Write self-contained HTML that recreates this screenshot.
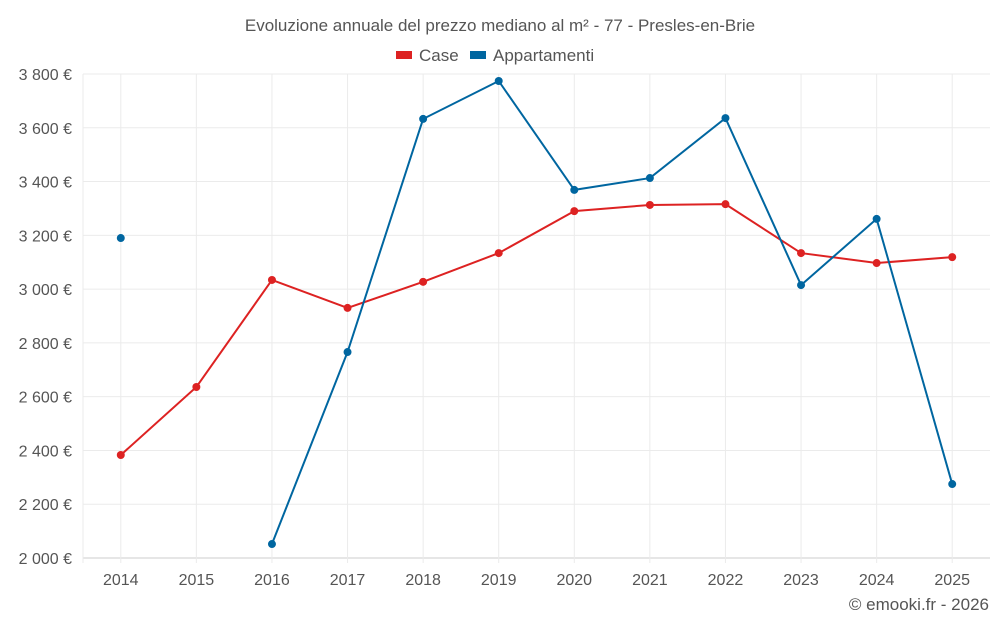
<!DOCTYPE html>
<html><head><meta charset="utf-8"><style>
body{margin:0;background:#fff;font-family:"Liberation Sans",sans-serif}
</style></head><body>
<svg id="c" width="1000" height="625" xmlns="http://www.w3.org/2000/svg" font-family="Liberation Sans, sans-serif">
<text x="500" y="31" text-anchor="middle" font-size="17" fill="#555">Evoluzione annuale del prezzo mediano al m² - 77 - Presles-en-Brie</text>
<g><rect x="396" y="51" width="16" height="8" fill="#dd2222"/><text x="419" y="61" font-size="17" fill="#555">Case</text></g>
<g><rect x="470" y="51" width="16" height="8" fill="#0066a0"/><text x="493" y="61" font-size="17" fill="#555">Appartamenti</text></g>
<g id="grid"></g><g id="axes"></g><g id="series"></g>
<text x="989" y="610" text-anchor="end" font-size="17" fill="#555">© emooki.fr - 2026</text>
</svg>
<script>
const years=[2014,2015,2016,2017,2018,2019,2020,2021,2022,2023,2024,2025];
const caseVals=[2383,2636,3034,2930,3027,3134,3290,3313,3316,3134,3097,3119];
const aptVals=[3190,null,2052,2766,3633,3774,3369,3413,3636,3015,3261,2275];
const yTicks=[2000,2200,2400,2600,2800,3000,3200,3400,3600,3800];
const NS="http://www.w3.org/2000/svg";
const x0=83,x1=990,yTop=74,yBot=558;
const step=(x1-x0)/years.length;
const xs=i=>x0+step*(i+0.5);
const ys=v=>yBot-(v-2000)/1800*(yBot-yTop);
function mk(tag,attrs,parent){const e=document.createElementNS(NS,tag);for(const k in attrs)e.setAttribute(k,attrs[k]);parent.appendChild(e);return e;}
const grid=document.getElementById('grid'),axes=document.getElementById('axes'),ser=document.getElementById('series');
yTicks.forEach(t=>{
 const l=mk('line',{x1:x0,x2:x1,y1:ys(t),y2:ys(t),stroke:t===2000?'#ccc':'#ebebeb'},grid);
 
 
 const tx=mk('text',{x:72,y:ys(t)+6,'text-anchor':'end','font-size':16,fill:'#555'},axes);
 tx.textContent=String(t).replace(/(\d)(\d{3})$/,'$1 $2')+' €';
 
 
});
const lx=mk('line',{x1:x0,x2:x0,y1:yTop,y2:yBot+5,stroke:'#ebebeb'},grid);


years.forEach((y,i)=>{
 const l=mk('line',{x1:xs(i),x2:xs(i),y1:yTop,y2:yBot+5,stroke:'#ebebeb'},grid);
 
 
 const tx=mk('text',{x:xs(i),y:585,'text-anchor':'middle','font-size':16,fill:'#555'},axes);
 tx.textContent=y;
 
 
});
function draw(vals,color,name){
 let segs=[],cur=[];
 vals.forEach((v,i)=>{if(v==null){if(cur.length)segs.push(cur);cur=[];}else cur.push([xs(i),ys(v)]);});
 if(cur.length)segs.push(cur);
 segs.forEach(s=>{if(s.length>1){const p=mk('polyline',{points:s.map(p=>p.join(',')).join(' '),fill:'none',stroke:color,'stroke-width':2},ser);
  
  }});
 vals.forEach((v,i)=>{if(v==null)return;const c=mk('circle',{cx:xs(i),cy:ys(v),r:4,fill:color},ser);
  
  });
}
draw(caseVals,'#dd2222','case');
draw(aptVals,'#0066a0','appartamenti');
</script>
</body></html>
